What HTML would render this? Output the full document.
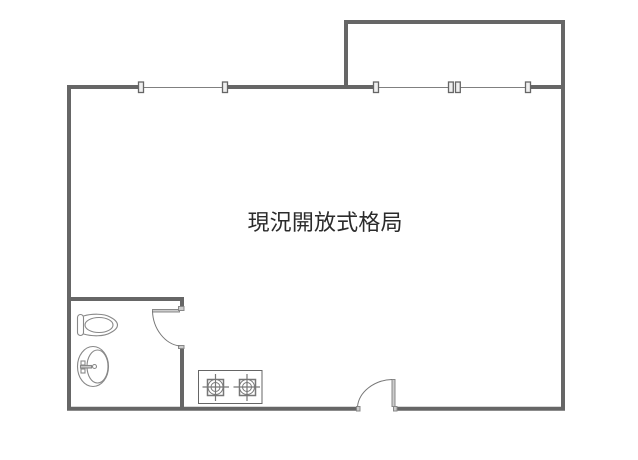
<!DOCTYPE html>
<html><head><meta charset="utf-8"><style>
html,body{margin:0;padding:0;background:#fff}
svg{display:block}
</style></head><body>
<svg width="638" height="460" viewBox="0 0 638 460" xmlns="http://www.w3.org/2000/svg">
<g fill="none" stroke="#666" stroke-width="4">
<path d="M138 87H69V408.800H356"/>
<path d="M228 87H346"/>
<path d="M346 87V22H563V408.800H397"/>
<path d="M531 87H563"/>
<path d="M346 87H373"/>
<path d="M69 299H182V307"/>
<path d="M182 347V408"/>
</g>
<g stroke="#808080" stroke-width="1" fill="none">
<path d="M144 87.500H222"/>
<path d="M378 87.500H448"/>
<path d="M460 87.500H525"/>
</g>
<g fill="#f0f0f0" stroke="#666" stroke-width="1.300">
<rect x="138.500" y="82" width="5" height="10.500"/>
<rect x="222.500" y="82" width="5" height="10.500"/>
<rect x="373.500" y="82" width="5" height="10.500"/>
<rect x="448.500" y="82" width="4.800" height="10.500"/>
<rect x="455.500" y="82" width="4.800" height="10.500"/>
<rect x="525.500" y="82" width="5" height="10.500"/>
</g>
<g fill="#ccc" stroke="#888" stroke-width="1">
<rect x="152.500" y="309.500" width="27" height="2.500"/>
<rect x="178.500" y="306.500" width="5.500" height="4"/>
<rect x="178.500" y="345.500" width="5.500" height="3"/>
<rect x="392" y="379.500" width="3" height="27"/>
<rect x="356.500" y="406.500" width="3.500" height="4.500"/>
<rect x="393.500" y="406.500" width="3.500" height="4.500"/>
</g>
<g fill="none" stroke="#777" stroke-width="1">
<path d="M152.500 311C153 329 165 344 179.500 346"/>
<path d="M392 379.500C374 380 359 392 357.500 406.500"/>
</g>
<g fill="none" stroke="#888" stroke-width="1.100">
<rect x="77.500" y="314.500" width="6" height="21" rx="3"/>
<path d="M83.500 316C92 313.500 104 313.500 110 317C115 319.500 117.500 322.500 117.500 325C117.500 327.500 115 330.500 110 333C104 336.500 92 336.500 83.500 334"/>
<ellipse cx="99" cy="325" rx="14" ry="7.500"/>
<ellipse cx="93" cy="366.500" rx="15.500" ry="20"/>
<ellipse cx="97.500" cy="366.500" rx="10.500" ry="16.500"/>
<circle cx="94.500" cy="366.500" r="2"/>
<rect x="81" y="361" width="4" height="4"/>
<rect x="81" y="369" width="4" height="4"/>
<rect x="80.500" y="365.500" width="11" height="2.500" fill="#ccc"/>
</g>
<g fill="none" stroke="#777" stroke-width="1">
<rect x="198.500" y="370.500" width="63.500" height="33" stroke="#666"/>
<g>
<rect x="207.500" y="379.500" width="16" height="16" stroke-width="1.500"/>
<circle cx="215.500" cy="387" r="7.500" fill="#fff"/>
<circle cx="215.500" cy="387" r="4.500"/>
<path d="M215.500 374V401M202.500 387H229" stroke-width="1.200"/>
</g>
<g>
<rect x="239.500" y="379.500" width="16" height="16" stroke-width="1.500"/>
<circle cx="247" cy="387" r="7.500" fill="#fff"/>
<circle cx="247" cy="387" r="4.500"/>
<path d="M247 374V401M233.500 387H260" stroke-width="1.200"/>
</g>
</g>
<text x="247.500" y="230" font-family="'Liberation Sans','Noto Sans CJK TC',sans-serif" font-size="22" textLength="155" fill="#2b2b2b">現況開放式格局</text>
</svg>
</body></html>
